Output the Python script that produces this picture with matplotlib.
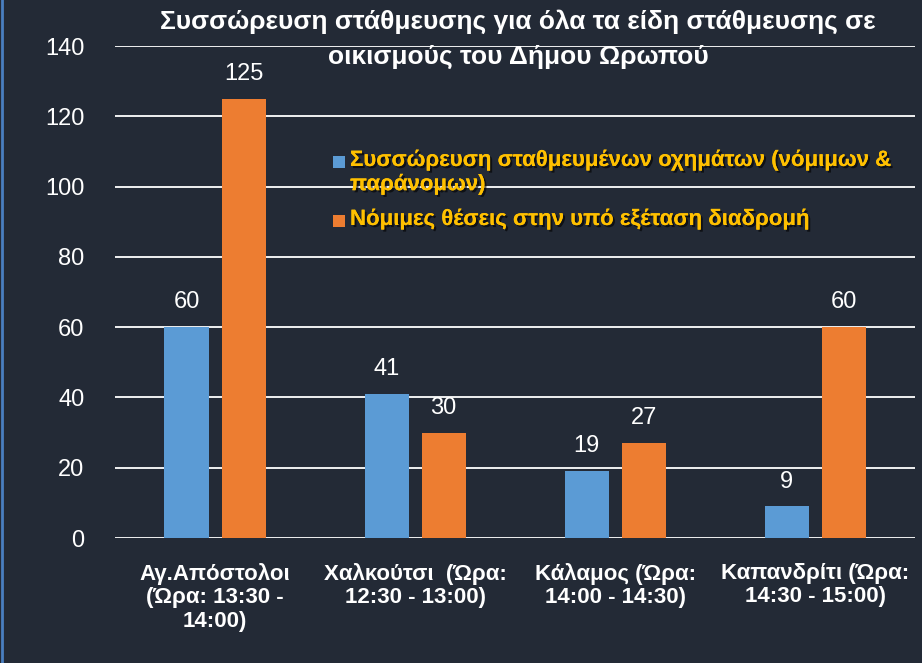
import matplotlib
matplotlib.use("Agg")
import matplotlib.pyplot as plt
import matplotlib.patheffects as pe
from matplotlib.patches import Rectangle
import numpy as np

plt.rcParams['font.family'] = ['Liberation Sans Narrow', 'Liberation Sans', 'DejaVu Sans']

categories = ["Αγ.Απόστολοι\n(Ώρα: 13:30 -\n14:00)",
              "Χαλκούτσι  (Ώρα:\n12:30 - 13:00)",
              "Κάλαμος (Ώρα:\n14:00 - 14:30)",
              "Καπανδρίτι (Ώρα:\n14:30 - 15:00)"]
series_names = ["Συσσώρευση σταθμευμένων οχημάτων (νόμιμων &\nπαράνομων)",
                "Νόμιμες θέσεις στην υπό εξέταση διαδρομή"]
accumulation = [60, 41, 19, 9]
legal_spaces = [125, 30, 27, 60]
yticks = [0, 20, 40, 60, 80, 100, 120, 140]
title_lines = ["Συσσώρευση στάθμευσης για όλα τα είδη στάθμευσης σε",
               "οικισμούς του Δήμου Ωρωπού"]

BG = "#232a36"
BLUE = "#5B9BD5"
ORANGE = "#ED7D31"
GOLD = "#FFC000"

fig = plt.figure(figsize=(9.22, 6.63), dpi=100, facecolor=BG)
ax = fig.add_axes([0.1247, 0.1885, 0.868, 0.742], facecolor=BG)

x = np.arange(len(categories))
w = 0.22
off = 0.1425
b1 = ax.bar(x - off, accumulation, w, color=BLUE, zorder=3)
b2 = ax.bar(x + off, legal_spaces, w, color=ORANGE, zorder=3)

for bars, vals in ((b1, accumulation), (b2, legal_spaces)):
    for b, v in zip(bars, vals):
        ax.annotate(str(v), (b.get_x() + b.get_width() / 2, v), xytext=(0, 10),
                    textcoords="offset points", ha="center", va="bottom",
                    color="white", fontsize=17)

ax.set_xlim(-0.5, 3.5)
ax.set_ylim(0, 140)
ax.set_yticks(yticks)
ax.set_yticklabels([str(t) for t in yticks], color="white", fontsize=17)
ax.set_xticks(x)
ax.set_xticklabels(categories, color="white", fontsize=16, fontweight="bold",
                   linespacing=1.15)
ax.tick_params(axis="x", length=0, pad=18)
ax.tick_params(axis="y", length=0, pad=22)
ax.grid(axis="y", color="white", linewidth=1.3, zorder=0)
for s in ax.spines.values():
    s.set_visible(False)

for line, ypix in zip(title_lines, (22, 57)):
    fig.text(0.562, 1 - ypix / 663, line, ha="center", va="center", color="white",
             fontsize=19, fontweight="bold")

# legend
shadow = [pe.withSimplePatchShadow(offset=(1.5, -1.5), shadow_rgbFace="black", alpha=0.6), pe.Normal()]
leg_items = [(BLUE, series_names[0], 162), (ORANGE, series_names[1], 221)]
for col, name, ypix in leg_items:
    fig.patches.append(Rectangle((333 / 922, 1 - (ypix + 6) / 663), 12 / 922, 12 / 663,
                                 transform=fig.transFigure, facecolor=col, edgecolor="none"))
    fig.text(350 / 922, 1 - (ypix - 12) / 663, name, ha="left", va="top", color=GOLD,
             fontsize=16, fontweight="bold", linespacing=1.2, path_effects=shadow)

# left slide border line
fig.add_artist(plt.Line2D([0.002, 0.002], [0, 1], transform=fig.transFigure,
                          color="#4a7fc0", linewidth=2))

fig.savefig("out.png", dpi=100, facecolor=BG)
